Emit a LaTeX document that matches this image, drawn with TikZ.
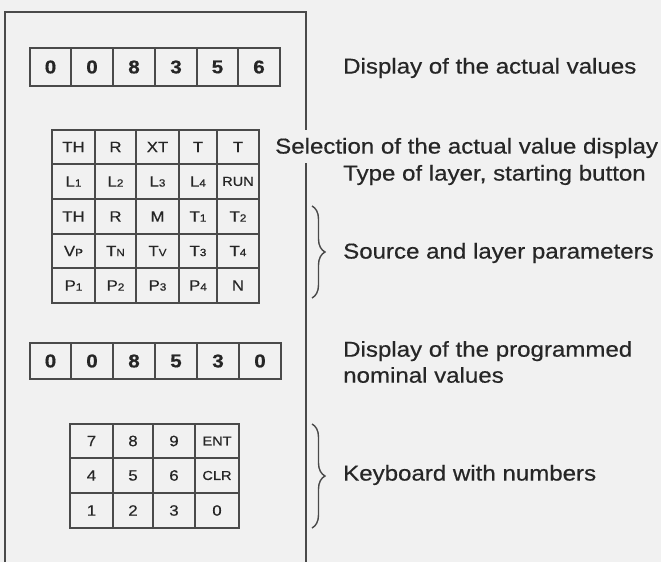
\documentclass[tikz,border=0pt]{standalone}
\usepackage{fontspec}
\setmainfont[FakeStretch=1.12,FakeBold=0.5]{Liberation Sans}
\usetikzlibrary{decorations.pathreplacing}
\definecolor{ink}{HTML}{262626}
\definecolor{rule}{HTML}{4A4A4A}
\definecolor{paper}{HTML}{F1F1F1}
\newcommand\lo[1]{{\fontsize{10.5}{10.5}\selectfont #1}}
\newcommand\cellat[7]{\node[cellbox,#6,minimum width={(#3-#1)*1pt},minimum height={(#4-#2)*1pt}] (#5) at ({(#1+#3)/2},{(#2+#4)/2}) {#7};}
\begin{document}
\begin{tikzpicture}[x=1pt,y=-1pt,
  cellbox/.style={draw=rule, line width=1.3pt, inner sep=0pt, text=ink, anchor=center},
  dig/.style={font=\fontsize{18.5}{18.5}\selectfont\bfseries},
  key/.style={font=\fontsize{15}{15}\selectfont},
  keysm/.style={font=\fontsize{13}{13}\selectfont},
  lbl/.style={font=\fontsize{21.5}{26}\selectfont, text=ink, anchor=west, inner sep=0pt, align=left},
  brc/.style={draw=rule, line width=1.4pt, decorate, decoration={brace, amplitude=13pt}}]
\fill[paper] (0,0) rectangle (661,562);
\useasboundingbox (0,0) rectangle (661,562);
% panel frame
\draw[rule, line width=1.2pt] (5,562) -- (5,12) -- (306,12) -- (306,130);
\draw[rule, line width=1.2pt] (306,163) -- (306,562);
% display of actual values
\foreach \a/\b/\t [count=\i] in {30/71/0,71/113/0,113/155/8,155/197/3,197/238/5,238/280/6}
  {\cellat{\a}{48}{\b}{86}{da\i}{dig}{\t}}
% selection grid
\foreach \a/\b/\t [count=\i] in {52/95/TH,95/136/R,136/179/XT,179/217/T,217/259/T}
  {\cellat{\a}{130}{\b}{164}{ga\i}{key}{\t}}
\foreach \a/\b/\t [count=\i] in {52/95/{L\lo{1}},95/136/{L\lo{2}},136/179/{L\lo{3}},179/217/{L\lo{4}},217/259/{\fontsize{13}{13}\selectfont RUN}}
  {\cellat{\a}{164}{\b}{199}{gb\i}{key}{\t}}
\foreach \a/\b/\t [count=\i] in {52/95/TH,95/136/R,136/179/M,179/217/{T\lo{1}},217/259/{T\lo{2}}}
  {\cellat{\a}{199}{\b}{234}{gc\i}{key}{\t}}
\foreach \a/\b/\t [count=\i] in {52/95/{V\lo{P}},95/136/{T\lo{N}},136/179/{T\lo{V}},179/217/{T\lo{3}},217/259/{T\lo{4}}}
  {\cellat{\a}{234}{\b}{268}{gd\i}{key}{\t}}
\foreach \a/\b/\t [count=\i] in {52/95/{P\lo{1}},95/136/{P\lo{2}},136/179/{P\lo{3}},179/217/{P\lo{4}},217/259/N}
  {\cellat{\a}{268}{\b}{303}{ge\i}{key}{\t}}
% display of programmed values
\foreach \a/\b/\t [count=\i] in {30/71/0,71/113/0,113/155/8,155/197/5,197/239/3,239/281/0}
  {\cellat{\a}{343}{\b}{379}{db\i}{dig}{\t}}
% keyboard
\foreach \a/\b/\t/\s [count=\i] in {70/113/7/key,113/153/8/key,153/195/9/key,195/239/ENT/keysm}
  {\cellat{\a}{424}{\b}{458}{ka\i}{\s}{\t}}
\foreach \a/\b/\t/\s [count=\i] in {70/113/4/key,113/153/5/key,153/195/6/key,195/239/CLR/keysm}
  {\cellat{\a}{458}{\b}{493}{kb\i}{\s}{\t}}
\foreach \a/\b/\t/\s [count=\i] in {70/113/1/key,113/153/2/key,153/195/3/key,195/239/0/key}
  {\cellat{\a}{493}{\b}{528}{kc\i}{\s}{\t}}
% braces
\coordinate (b1t) at (312,206); \coordinate (b1b) at (312,298);
\coordinate (b2t) at (312,424); \coordinate (b2b) at (312,528);
\draw[brc] (b1t) -- (b1b);
\draw[brc] (b2t) -- (b2b);
% labels
\node[lbl] (l1) at (343,68) {Display of the actual values};
\node[lbl] (l2) at (275,148) {Selection of the actual value display};
\node[lbl] (l3) at (343,175) {Type of layer, starting button};
\node[lbl] (l4) at (343,253) {Source and layer parameters};
\node[lbl] (l5) at (343,362) {Display of the programmed\\nominal values};
\node[lbl] (l6) at (343,475) {Keyboard with numbers};
\end{tikzpicture}
\end{document}
